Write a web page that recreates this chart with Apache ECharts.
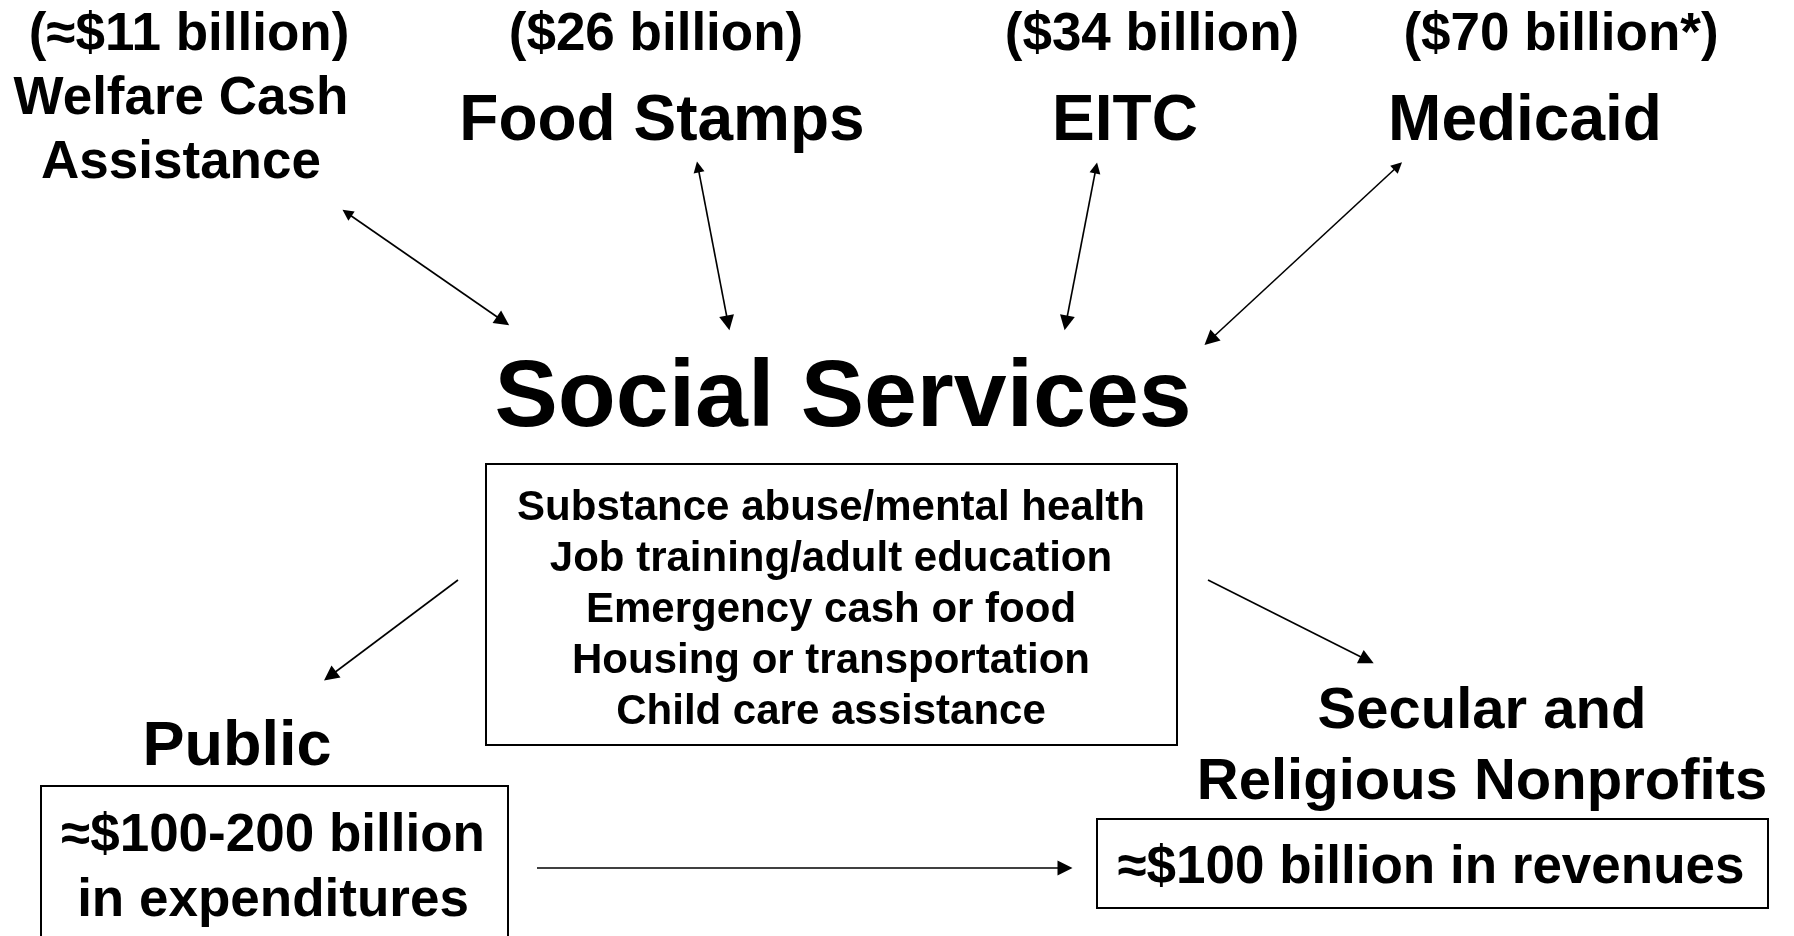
<!DOCTYPE html>
<html lang="en">
<head>
    <meta charset="UTF-8">
    <title>Social Services funding</title>
    <script src="https://cdn.jsdelivr.net/npm/echarts@6.0.0/dist/echarts.min.js"></script>
    <style>
        html, body { margin: 0; padding: 0; background: #fff; }
        #main { width: 1794px; height: 936px; }
    </style>
</head>
<body>
<div id="main"></div>
<script type="text/javascript">
    // text of the diagram
    const programs = ['Welfare Cash\nAssistance', 'Food Stamps', 'EITC', 'Medicaid'];
    const programCosts = ['(≈$11 billion)', '($26 billion)', '($34 billion)', '($70 billion*)'];
    const hubTitle = 'Social Services';
    const services = ['Substance abuse/mental health', 'Job training/adult education',
        'Emergency cash or food', 'Housing or transportation', 'Child care assistance'];
    const sectors = ['Public', 'Secular and\nReligious Nonprofits'];
    const sectorMoney = ['≈$100-200 billion\nin expenditures', '≈$100 billion in revenues'];

    // layout (pixel space of the 1794x936 page)
    const costPos = [[189, 35], [656, 35], [1152, 35], [1561, 35]];
    const programPos = [[181, 131], [662, 122], [1125, 122], [1525, 122]];
    const hubPos = [843, 400];
    const servicesBox = [486, 464, 1177, 745];
    const servicesPos = [831, 610];
    const sectorPos = [[237, 748], [1482, 747]];
    const moneyBoxes = [[41, 786, 508, 960], [1097, 819, 1768, 908]];
    const moneyPos = [[273, 869], [1431, 868]];
    const arrows = [
        [[347, 213], [503, 321], 'both'],
        [[698, 167], [728, 323], 'both'],
        [[1096, 168], [1066, 323], 'both'],
        [[1398, 166], [1210, 340], 'both'],
        [[458, 580], [330, 676], 'end'],
        [[1208, 580], [1367, 660], 'end'],
        [[537, 868], [1065, 868], 'end']
    ];

    const FONT = "'Liberation Sans', Arial, sans-serif";

    function textItem(pos, text, size, lineHeight) {
        return {
            value: [pos[0], pos[1]],
            label: {
                show: true,
                formatter: text,
                fontSize: size,
                lineHeight: lineHeight || Math.round(size * 1.2),
                fontWeight: 'bold',
                fontFamily: FONT,
                color: '#000',
                opacity: 1,
                position: 'inside',
                align: 'center',
                verticalAlign: 'middle'
            }
        };
    }

    const texts = [];
    programCosts.forEach((t, i) => texts.push(textItem(costPos[i], t, 53)));
    programs.forEach((t, i) => texts.push(textItem(programPos[i], t, i === 0 ? 53 : 64, 64)));
    texts.push(textItem(hubPos, hubTitle, 95));
    texts.push(textItem(servicesPos, services.join('\n'), 42, 51));
    texts.push(textItem(sectorPos[0], sectors[0], 63));
    texts.push(textItem(sectorPos[1], sectors[1], 58, 71));
    sectorMoney.forEach((t, i) => texts.push(textItem(moneyPos[i], t, 53, 65)));

    const arrowData = arrows.map(a => ({
        coords: [a[0], a[1]],
        symbol: a[2] === 'both' ? ['triangle', 'triangle'] : ['none', 'triangle']
    }));

    const boxes = [servicesBox].concat(moneyBoxes);

    const chart = echarts.init(document.getElementById('main'));
    chart.setOption({
        animation: false,
        backgroundColor: '#fff',
        grid: { left: 0, right: 0, top: 0, bottom: 0 },
        xAxis: { type: 'value', min: 0, max: 1794, show: false },
        yAxis: { type: 'value', min: 0, max: 936, inverse: true, show: false },
        series: [
            {
                type: 'custom',
                clip: false,
                data: boxes,
                renderItem: function (params, api) {
                    const p0 = api.coord([api.value(0), api.value(1)]);
                    const p1 = api.coord([api.value(2), api.value(3)]);
                    return {
                        type: 'rect',
                        shape: { x: p0[0], y: p0[1], width: p1[0] - p0[0], height: p1[1] - p0[1] },
                        style: { fill: '#fff', stroke: '#000', lineWidth: 2 }
                    };
                }
            },
            {
                type: 'lines',
                coordinateSystem: 'cartesian2d',
                symbolSize: [11, 15],
                lineStyle: { color: '#000', width: 1.6, opacity: 1, curveness: 0 },
                data: arrowData
            },
            {
                type: 'scatter',
                symbolSize: 0,
                itemStyle: { opacity: 1 },
                data: texts
            }
        ]
    });
</script>
</body>
</html>
